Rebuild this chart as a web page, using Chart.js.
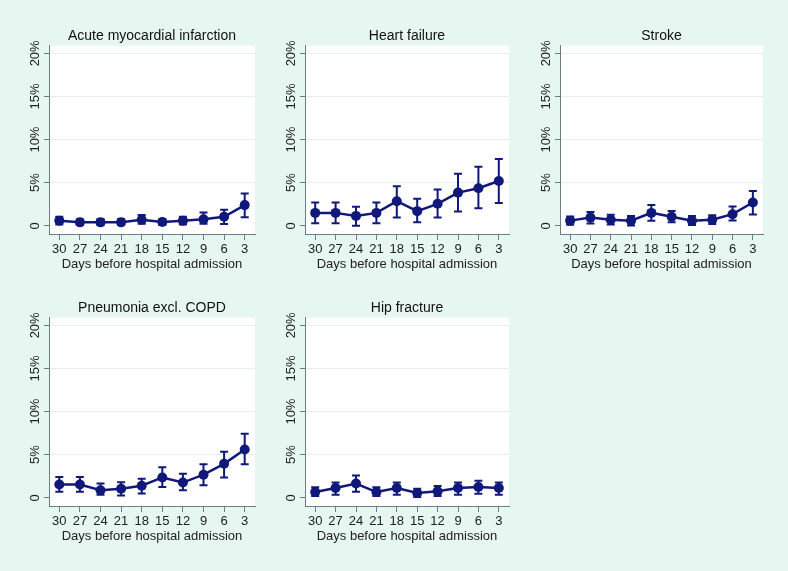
<!DOCTYPE html>
<html>
<head>
<meta charset="utf-8">
<script src="https://cdn.jsdelivr.net/npm/chart.js@4.4.0/dist/chart.umd.min.js"></script>
<style>
    html, body {
        margin: 0;
        padding: 0;
        width: 788px;
        height: 571px;
        overflow: hidden;
        background: #e6f6f0;
    }
    .panel {
        position: absolute;
        height: 255px;
    }
</style>
</head>
<body>
<div class="panel" style="left:0px;top:20px;width:260px"><canvas id="c1"></canvas></div>
<div class="panel" style="left:256px;top:20px;width:258px"><canvas id="c2"></canvas></div>
<div class="panel" style="left:511px;top:20px;width:257px"><canvas id="c3"></canvas></div>
<div class="panel" style="left:0px;top:292px;width:260px"><canvas id="c4"></canvas></div>
<div class="panel" style="left:256px;top:292px;width:258px"><canvas id="c5"></canvas></div>
<script>
// Days before hospital admission (x categories)
const days = ['30', '27', '24', '21', '18', '15', '12', '9', '6', '3'];

// y axis ticks (%)
const yTickValues = [0, 5, 10, 15, 20];
const yTickLabels = ['0', '5%', '10%', '15%', '20%'];

// Acute myocardial infarction
const amiEst = [0.6, 0.4, 0.4, 0.4, 0.7, 0.45, 0.6, 0.75, 1.05, 2.4];
const amiLow = [0.15, 0.1, 0.1, 0.1, 0.25, 0.1, 0.15, 0.25, 0.2, 1.0];
const amiHigh = [1.05, 0.75, 0.8, 0.8, 1.25, 0.8, 1.05, 1.55, 1.85, 3.75];

// Heart failure
const hfEst = [1.5, 1.5, 1.15, 1.5, 2.85, 1.7, 2.55, 3.85, 4.35, 5.2];
const hfLow = [0.3, 0.3, 0.0, 0.3, 0.95, 0.4, 0.95, 1.65, 2.05, 2.65];
const hfHigh = [2.7, 2.7, 2.2, 2.7, 4.6, 3.15, 4.2, 6.05, 6.85, 7.75];

// Stroke
const strokeEst = [0.6, 0.95, 0.7, 0.6, 1.5, 1.05, 0.6, 0.7, 1.35, 2.7];
const strokeLow = [0.12, 0.27, 0.15, 0.05, 0.6, 0.42, 0.08, 0.2, 0.62, 1.3];
const strokeHigh = [1.08, 1.6, 1.27, 1.15, 2.42, 1.73, 1.15, 1.23, 2.23, 4.05];

// Pneumonia excl. COPD
const pneuEst = [1.55, 1.55, 0.87, 1.06, 1.4, 2.36, 1.77, 2.68, 3.94, 5.6];
const pneuLow = [0.7, 0.7, 0.35, 0.28, 0.5, 1.26, 0.87, 1.46, 2.36, 3.9];
const pneuHigh = [2.4, 2.4, 1.65, 1.8, 2.2, 3.54, 2.8, 3.9, 5.35, 7.44];

// Hip fracture
const hipEst = [0.67, 1.14, 1.65, 0.67, 1.14, 0.55, 0.75, 1.14, 1.26, 1.14];
const hipLow = [0.2, 0.35, 0.7, 0.2, 0.35, 0.08, 0.2, 0.35, 0.47, 0.35];
const hipHigh = [1.22, 1.77, 2.6, 1.22, 1.77, 1.06, 1.38, 1.77, 1.97, 1.77];

const panels = [
    { id: 'c1', title: 'Acute myocardial infarction', est: amiEst, low: amiLow, high: amiHigh },
    { id: 'c2', title: 'Heart failure', est: hfEst, low: hfLow, high: hfHigh },
    { id: 'c3', title: 'Stroke', est: strokeEst, low: strokeLow, high: strokeHigh },
    { id: 'c4', title: 'Pneumonia excl. COPD', est: pneuEst, low: pneuLow, high: pneuHigh },
    { id: 'c5', title: 'Hip fracture', est: hipEst, low: hipLow, high: hipHigh }
];

const NAVY = '#10187a';
const AXIS = '#6c7c82';
const FONT = "'Liberation Sans', Arial, sans-serif";

// white plot region
const plotBackground = {
    id: 'plotBackground',
    beforeDraw(chart) {
        const { ctx, chartArea: a } = chart;
        ctx.save();
        ctx.fillStyle = '#ffffff';
        ctx.fillRect(a.left, a.top, a.right - a.left, a.bottom - a.top);
        ctx.restore();
    }
};

// vertical y labels, Stata style
const rotatedYLabels = {
    id: 'rotatedYLabels',
    afterDraw(chart) {
        const scale = chart.scales.y;
        const ctx = chart.ctx;
        ctx.save();
        ctx.font = '13px ' + FONT;
        ctx.fillStyle = '#222222';
        ctx.textAlign = 'center';
        ctx.textBaseline = 'middle';
        yTickValues.forEach((v, i) => {
            const y = scale.getPixelForValue(v);
            ctx.save();
            ctx.translate(scale.right - 14, y);
            ctx.rotate(-Math.PI / 2);
            ctx.fillText(yTickLabels[i], 0, 0);
            ctx.restore();
        });
        ctx.restore();
    }
};

// confidence interval bars
const errorBars = {
    id: 'errorBars',
    beforeDatasetsDraw(chart) {
        const ctx = chart.ctx;
        const xs = chart.scales.x;
        const ys = chart.scales.y;
        const { low, high } = chart.options.plugins.errorBars;
        ctx.save();
        ctx.strokeStyle = NAVY;
        ctx.lineWidth = 2;
        low.forEach((lo, i) => {
            const x = xs.getPixelForValue(i);
            const y1 = ys.getPixelForValue(lo);
            const y2 = ys.getPixelForValue(high[i]);
            ctx.beginPath();
            ctx.moveTo(x, y1);
            ctx.lineTo(x, y2);
            ctx.moveTo(x - 4, y1);
            ctx.lineTo(x + 4, y1);
            ctx.moveTo(x - 4, y2);
            ctx.lineTo(x + 4, y2);
            ctx.stroke();
        });
        ctx.restore();
    }
};

function createPanel(p) {
    const ctx = document.getElementById(p.id).getContext('2d');
    return new Chart(ctx, {
        type: 'line',
        data: {
            labels: days,
            datasets: [{
                data: p.est,
                borderColor: NAVY,
                backgroundColor: NAVY,
                borderWidth: 2.5,
                pointRadius: 5,
                pointBorderWidth: 0,
                tension: 0
            }]
        },
        options: {
            responsive: true,
            maintainAspectRatio: false,
            animation: false,
            layout: { padding: { left: 0, right: 0, top: 0, bottom: 3 } },
            plugins: {
                legend: { display: false },
                tooltip: { enabled: false },
                title: {
                    display: true,
                    text: p.title,
                    fullSize: false,
                    color: '#111111',
                    font: { family: FONT, size: 14, weight: 'normal' },
                    padding: { top: 8, bottom: 0.8 }
                },
                errorBars: { low: p.low, high: p.high }
            },
            scales: {
                x: {
                    type: 'category',
                    offset: true,
                    grid: {
                        drawOnChartArea: false,
                        drawTicks: true,
                        tickLength: 6,
                        tickColor: AXIS,
                        tickWidth: 1
                    },
                    border: { display: true, color: AXIS, width: 1 },
                    ticks: {
                        color: '#222222',
                        padding: 2.5,
                        autoSkip: false,
                        maxRotation: 0,
                        font: { family: FONT, size: 13, lineHeight: 1 }
                    },
                    title: {
                        display: true,
                        text: 'Days before hospital admission',
                        color: '#222222',
                        font: { family: FONT, size: 13, lineHeight: 1 },
                        padding: { top: 0, bottom: 1 }
                    }
                },
                y: {
                    min: -0.95,
                    max: 20.9,
                    afterBuildTicks(scale) {
                        scale.ticks = yTickValues.map(v => ({ value: v }));
                    },
                    afterFit(scale) {
                        scale.width = 49;
                    },
                    grid: {
                        drawTicks: true,
                        tickLength: 5,
                        tickColor: AXIS,
                        color: ctx => ctx.tick && ctx.tick.value === 0 ? 'rgba(0,0,0,0)' : '#e3f1ec',
                        lineWidth: 1
                    },
                    border: { display: true, color: AXIS, width: 1 },
                    ticks: { display: false }
                }
            }
        },
        plugins: [plotBackground, errorBars, rotatedYLabels]
    });
}

document.addEventListener('DOMContentLoaded', function() {
    panels.forEach(createPanel);
});
</script>
</body>
</html>
